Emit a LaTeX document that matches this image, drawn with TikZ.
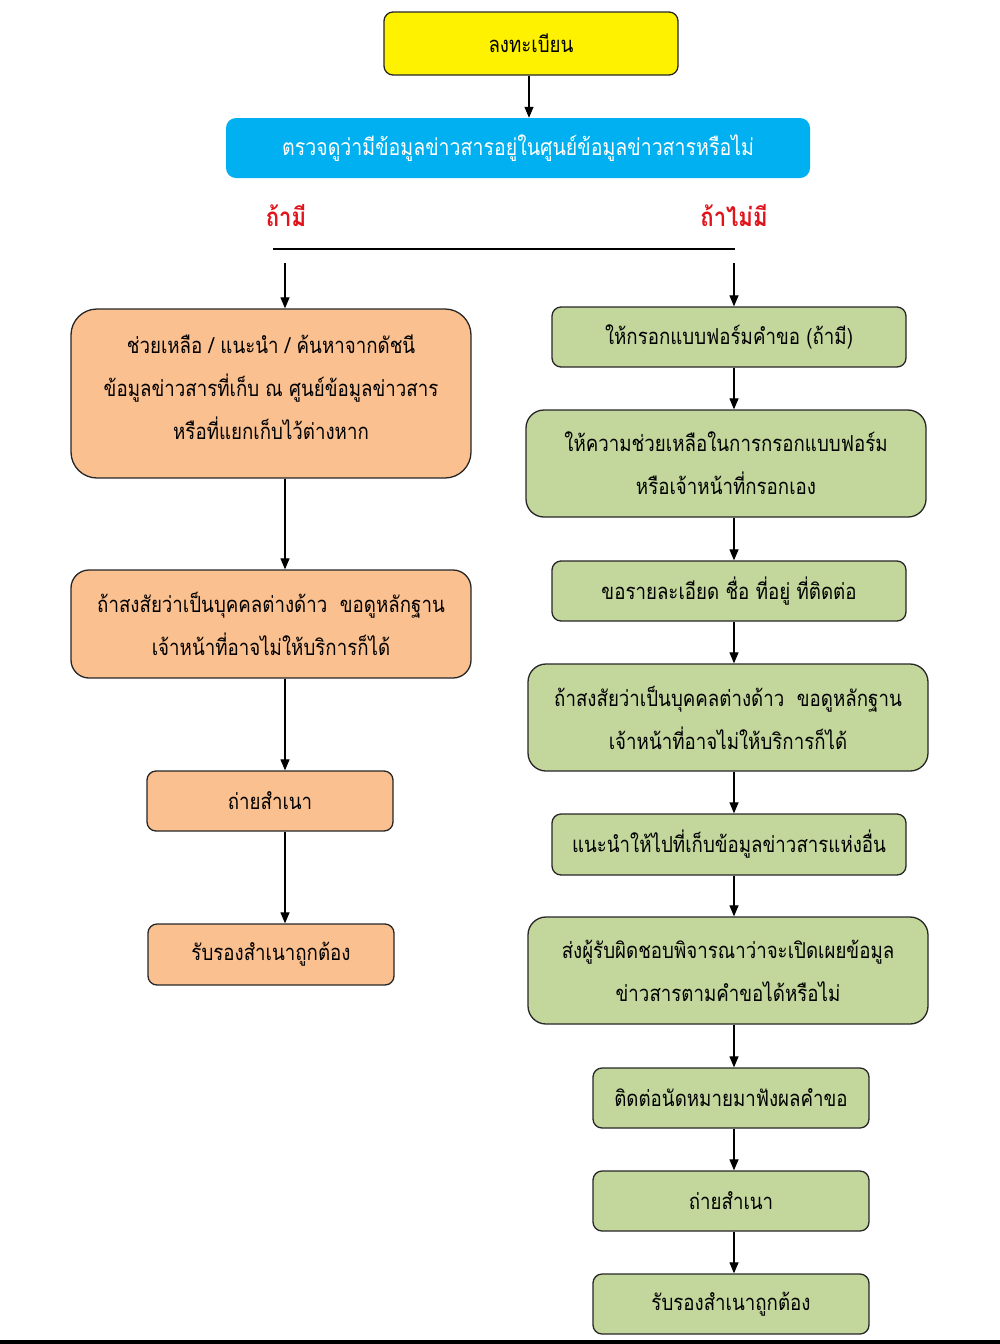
\documentclass[tikz,border=0pt]{standalone}
\usepackage{fontspec}
\newfontfamily\thaifont[Script=Thai,FakeStretch=0.85]{Loma}
\usetikzlibrary{arrows.meta}
\definecolor{orangebox}{HTML}{FAC090}
\definecolor{greenbox}{HTML}{C3D69B}
\definecolor{bluebox}{HTML}{00B0F0}
\definecolor{redtxt}{HTML}{E0141B}
\begin{document}
\begin{tikzpicture}[x=1pt,y=-1pt,
  box/.style={draw=black!85, line width=1.3pt, rounded corners=9pt, align=center,
    inner sep=0pt, text=black, font=\thaifont\fontsize{22}{43}\selectfont},
  obox/.style={box, fill=orangebox},
  gbox/.style={box, fill=greenbox},
  arr/.style={-{Triangle[width=9pt,length=11pt]}, line width=1.2pt},
  lab/.style={text=redtxt, font=\thaifont\bfseries\fontsize{26}{30}\selectfont}]
\useasboundingbox (0,0) rectangle (1000,1344);
% top
\node[box, fill=yellow, minimum width=294, minimum height=63] (reg) at (531,43.5) {ลงทะเบียน};
\node[draw=none, fill=bluebox, rounded corners=10pt, minimum width=584, minimum height=60,
  text=white, inner sep=0pt, font=\thaifont\fontsize{23}{26}\selectfont] (chk) at (518,148)
  {ตรวจดูว่ามีข้อมูลข่าวสารอยู่ในศูนย์ข้อมูลข่าวสารหรือไม่};
\draw[arr] (reg.south -| 529,0) -- (chk.north -| 529,0);
\node[lab] (yes) at (286,216) {ถ้ามี};
\node[lab] (no) at (734,216) {ถ้าไม่มี};
\coordinate (hl) at (273,249);
\coordinate (hr) at (735,249);
\draw[line width=1.2pt] (hl) -- (hr);
\coordinate (leftx) at (285,263);
\coordinate (rightx) at (734,263);
% left column
\node[obox, rounded corners=26pt, minimum width=400, minimum height=169] (l1) at (271,393.5)
  {\raisebox{5.5pt}[\height][\depth]{\begin{tabular}{@{}c@{}}ช่วยเหลือ / แนะนำ / ค้นหาจากดัชนี\\ข้อมูลข่าวสารที่เก็บ ณ ศูนย์ข้อมูลข่าวสาร\\หรือที่แยกเก็บไว้ต่างหาก\end{tabular}}};
\node[obox, rounded corners=18pt, minimum width=400, minimum height=108] (l2) at (271,624)
  {ถ้าสงสัยว่าเป็นบุคคลต่างด้าว\ \ ขอดูหลักฐาน\\เจ้าหน้าที่อาจไม่ให้บริการก็ได้};
\node[obox, minimum width=246, minimum height=60] (l3) at (270,801) {ถ่ายสำเนา};
\node[obox, minimum width=246, minimum height=61] (l4) at (271,954.5) {รับรองสำเนาถูกต้อง};
\draw[arr] (leftx) -- (l1.north -| leftx);
\draw[arr] (l1.south -| leftx) -- (l2.north -| leftx);
\draw[arr] (l2.south -| leftx) -- (l3.north -| leftx);
\draw[arr] (l3.south -| leftx) -- (l4.north -| leftx);
% right column
\node[gbox, minimum width=354, minimum height=60] (r1) at (729,337) {ให้กรอกแบบฟอร์มคำขอ (ถ้ามี)};
\node[gbox, rounded corners=18pt, minimum width=400, minimum height=107] (r2) at (726,463.5)
  {ให้ความช่วยเหลือในการกรอกแบบฟอร์ม\\หรือเจ้าหน้าที่กรอกเอง};
\node[gbox, minimum width=354, minimum height=60] (r3) at (729,591) {ขอรายละเอียด ชื่อ ที่อยู่ ที่ติดต่อ};
\node[gbox, rounded corners=18pt, minimum width=400, minimum height=107] (r4) at (728,717.5)
  {ถ้าสงสัยว่าเป็นบุคคลต่างด้าว\ \ ขอดูหลักฐาน\\เจ้าหน้าที่อาจไม่ให้บริการก็ได้};
\node[gbox, minimum width=354, minimum height=61] (r5) at (729,844.5) {แนะนำให้ไปที่เก็บข้อมูลข่าวสารแห่งอื่น};
\node[gbox, rounded corners=18pt, minimum width=400, minimum height=107] (r6) at (728,970.5)
  {ส่งผู้รับผิดชอบพิจารณาว่าจะเปิดเผยข้อมูล\\ข่าวสารตามคำขอได้หรือไม่};
\node[gbox, minimum width=276, minimum height=60] (r7) at (731,1098) {ติดต่อนัดหมายมาฟังผลคำขอ};
\node[gbox, minimum width=276, minimum height=60] (r8) at (731,1201) {ถ่ายสำเนา};
\node[gbox, minimum width=276, minimum height=60] (r9) at (731,1304) {รับรองสำเนาถูกต้อง};
\draw[arr] (rightx) -- (r1.north -| rightx);
\foreach \a/\b in {r1/r2,r2/r3,r3/r4,r4/r5,r5/r6,r6/r7,r7/r8,r8/r9}
  \draw[arr] (\a.south -| rightx) -- (\b.north -| rightx);
% bottom rule
\fill[black] (0,1340) rectangle (1000,1344);
\end{tikzpicture}
\end{document}
